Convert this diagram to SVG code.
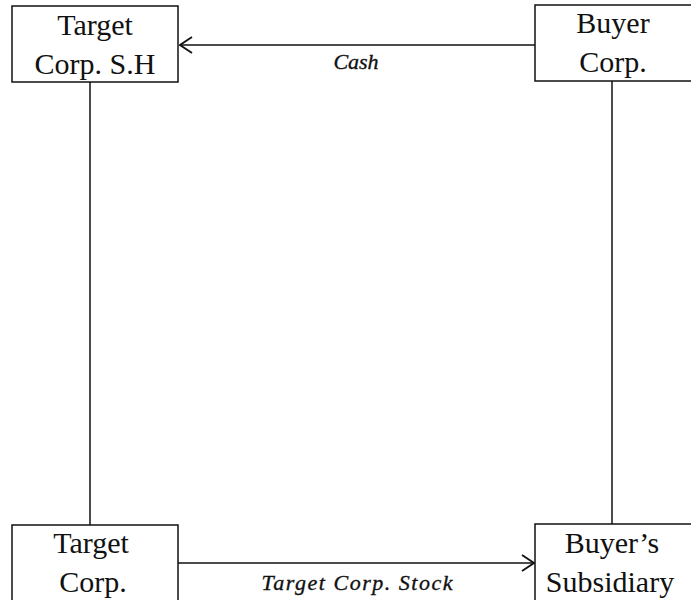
<svg xmlns="http://www.w3.org/2000/svg" width="691" height="600" viewBox="0 0 691 600">
  <style>
    .box { fill: #ffffff; stroke: #111111; stroke-width: 1.5; }
    .lbl { font-family: "Liberation Serif", "Times New Roman", serif; font-size: 30px; fill: #111111; text-anchor: middle; }
    .edge { fill: none; stroke: #111111; stroke-width: 1.5; }
    .elbl { font-family: "Liberation Serif", "Times New Roman", serif; font-size: 22px; font-style: italic; fill: #111111; stroke: #111111; stroke-width: 0.35; text-anchor: middle; }
  </style>
  <defs>
    <marker id="arrow" viewBox="0 0 14 18" refX="13" refY="9" markerWidth="14" markerHeight="18" markerUnits="userSpaceOnUse" orient="auto">
      <path d="M1,1 L13,9 L1,17" fill="none" stroke="#111111" stroke-width="1.8"/>
    </marker>
  </defs>
  <rect width="691" height="600" fill="#ffffff"/>

  <g id="connectors">
    <line class="edge" x1="90" y1="82" x2="90" y2="525"/>
    <line class="edge" x1="612" y1="81" x2="612" y2="524"/>
    <line class="edge" x1="535" y1="45" x2="180" y2="45" marker-end="url(#arrow)"/>
    <line class="edge" x1="178" y1="563" x2="534" y2="563" marker-end="url(#arrow)"/>
    <text class="elbl" x="356" y="69">Cash</text>
    <text class="elbl" x="357" y="590" textLength="191" lengthAdjust="spacing">Target Corp. Stock</text>
  </g>

  <g id="target-sh">
    <rect class="box" x="12" y="6" width="166" height="76"/>
    <text class="lbl" x="95" y="35">Target</text>
    <text class="lbl" x="95" y="74">Corp. S.H</text>
  </g>

  <g id="buyer-corp">
    <rect class="box" x="535" y="5" width="160" height="76"/>
    <text class="lbl" x="613" y="33">Buyer</text>
    <text class="lbl" x="613" y="72">Corp.</text>
  </g>

  <g id="target-corp">
    <rect class="box" x="12" y="525" width="166" height="80"/>
    <text class="lbl" x="91" y="553">Target</text>
    <text class="lbl" x="93" y="592">Corp.</text>
  </g>

  <g id="buyer-sub">
    <rect class="box" x="535" y="524" width="160" height="80"/>
    <text class="lbl" x="612" y="553">Buyer’s</text>
    <text class="lbl" x="610" y="592">Subsidiary</text>
  </g>
</svg>
